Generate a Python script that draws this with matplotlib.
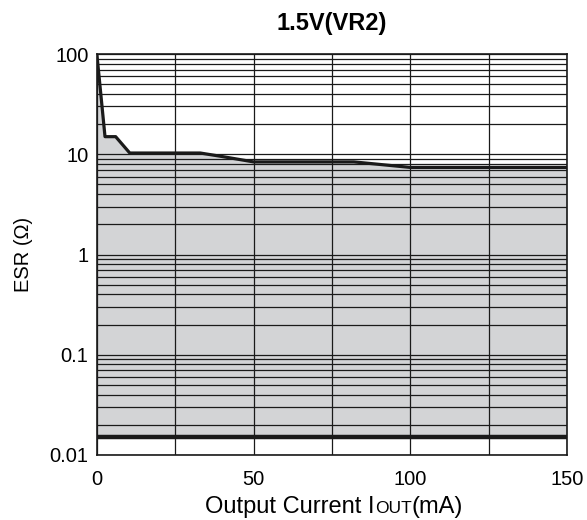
import matplotlib
matplotlib.use("Agg")
import matplotlib.pyplot as plt
from matplotlib.ticker import LogLocator, FixedLocator, NullFormatter
import numpy as np

plt.rcParams['font.family'] = ['Liberation Sans', 'DejaVu Sans']

# upper ESR limit curve
iout = [0, 2.6, 6, 10.5, 33, 40, 50, 82, 100, 150]
esr_max = [100, 15, 15, 10.3, 10.3, 9.5, 8.4, 8.4, 7.4, 7.4]
esr_min = 0.015

x_ticks = [0, 50, 100, 150]
x_grid = [0, 25, 50, 75, 100, 125, 150]
y_ticks = [0.01, 0.1, 1, 10, 100]
y_labels = ['0.01', '0.1', '1', '10', '100']

fig = plt.figure(figsize=(5.87, 5.2), dpi=100)
ax = fig.add_axes([0.165, 0.125, 0.801, 0.771])

ax.fill_between(iout, esr_min, esr_max, color='#d3d4d6', lw=0, zorder=1)
ax.set_yscale('log')
ax.set_xlim(0, 150)
ax.set_ylim(0.01, 100)

ax.set_xticks(x_ticks)
ax.xaxis.set_minor_locator(FixedLocator(x_grid))
ax.set_yticks(y_ticks)
ax.set_yticklabels(y_labels)
ax.yaxis.set_minor_locator(LogLocator(base=10, subs=np.arange(2, 10)))
ax.yaxis.set_minor_formatter(NullFormatter())
ax.tick_params(which='both', length=0, labelsize=14.5)
ax.tick_params(axis='y', pad=6)
ax.tick_params(axis='x', pad=11)

ax.grid(True, which='both', color='#1a1a1a', lw=0.9, zorder=2)
ax.set_axisbelow(False)

ax.plot(iout, esr_max, color='#1a1a1a', lw=2.3, zorder=3)
ax.axhline(esr_min, color='#1a1a1a', lw=3.2, zorder=3)

for s in ax.spines.values():
    s.set_color('#1a1a1a')
    s.set_linewidth(1.2)

ax.set_title('1.5V(VR2)', fontsize=17, fontweight='bold', pad=17)
ax.set_ylabel('ESR (Ω)', fontsize=14.5, labelpad=12)

# x label with small-caps style "OUT"
fig.canvas.draw()
r = fig.canvas.get_renderer()
parts = [('Output Current I', 17), ('OUT', 12.5), ('(mA)', 17)]
texts = [fig.text(0, 0.014, p, fontsize=s, va='baseline') for p, s in parts]
widths = [t.get_window_extent(r).width for t in texts]
total = sum(widths)
cx = 334
x0 = cx - total / 2
for t, w in zip(texts, widths):
    t.set_x(x0 / fig.bbox.width)
    x0 += w

fig.savefig('out.png', dpi=100)
